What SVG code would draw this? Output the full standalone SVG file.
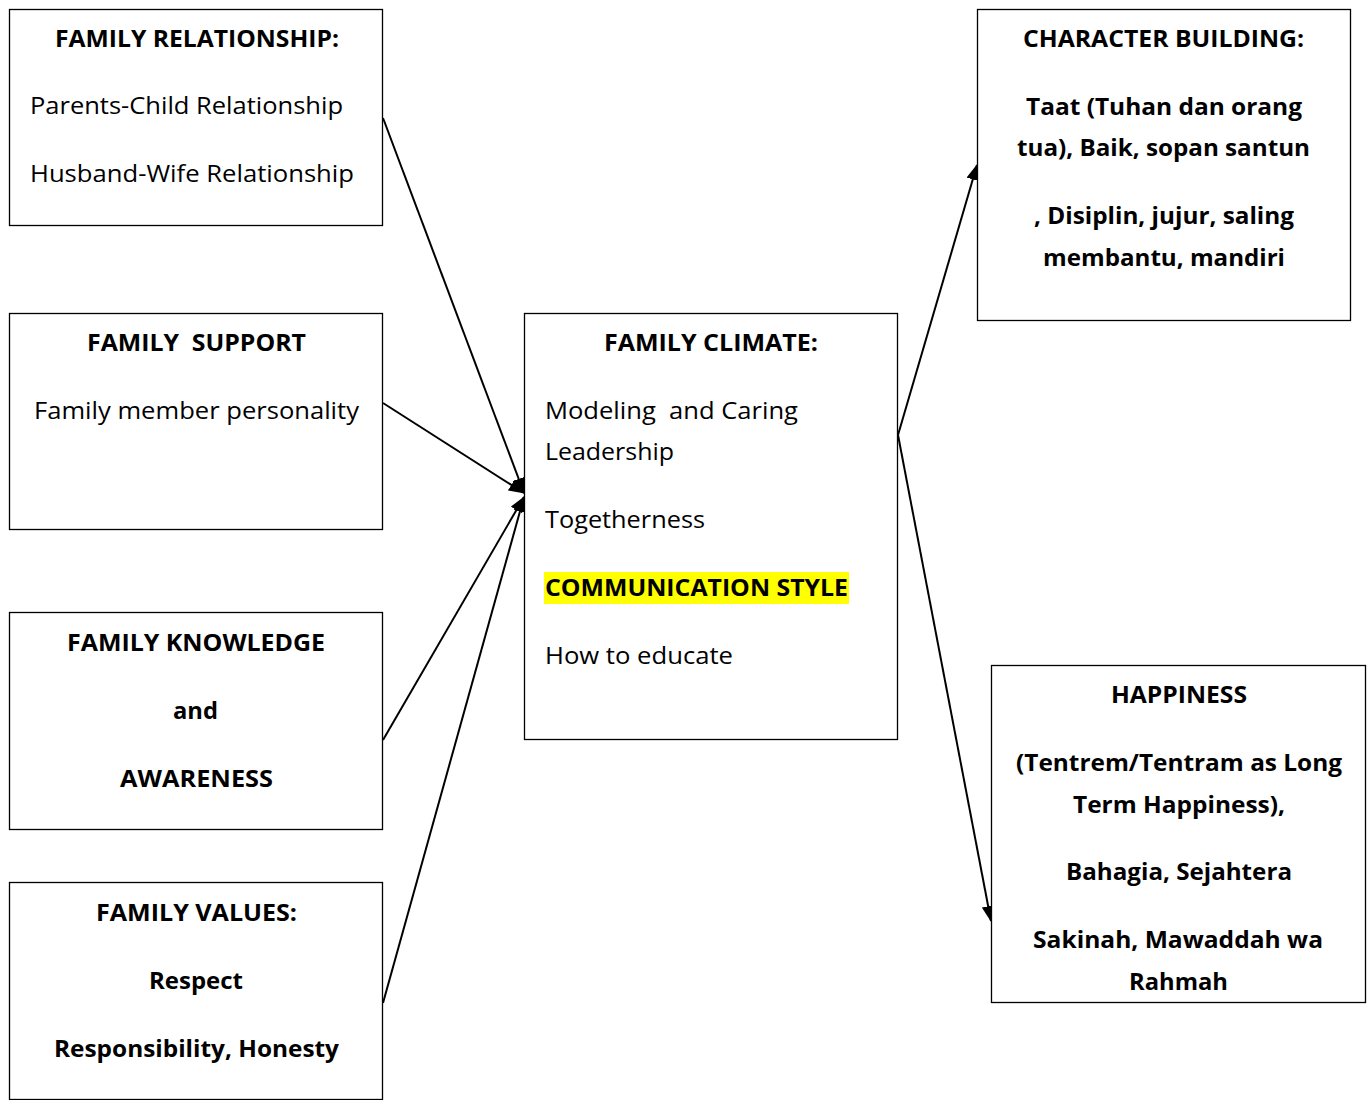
<svg xmlns="http://www.w3.org/2000/svg" width="1371" height="1100" viewBox="0 0 1371 1100">
<defs>
<style>
.box{fill:#fff;stroke:#000;stroke-width:1.3}
text{font-family:"Open Sans","Liberation Sans",sans-serif;font-size:23px;fill:#000}
.b{font-weight:bold}
.c{text-anchor:middle}
.edge{stroke:#000;stroke-width:2;fill:none;marker-end:url(#ah)}
</style>
<marker id="ah" markerWidth="16" markerHeight="13" refX="15" refY="6.5" orient="auto" markerUnits="userSpaceOnUse" viewBox="0 0 16 13">
<path d="M0,0 L16,6.5 L0,13 z" fill="#000"/>
</marker>
</defs>
<rect width="1371" height="1100" fill="#fff"/>
<g id="edges">
<line class="edge" x1="383" y1="118" x2="524" y2="493"/>
<line class="edge" x1="383" y1="403" x2="524" y2="493"/>
<line class="edge" x1="383" y1="740" x2="524" y2="497"/>
<line class="edge" x1="383" y1="1003" x2="524" y2="497"/>
<line class="edge" x1="898" y1="435" x2="977" y2="165"/>
<line class="edge" x1="898" y1="435" x2="991" y2="921"/>
</g>
<g id="family-relationship">
<rect class="box" x="9.5" y="9.5" width="373" height="216"/>
<text class="b c" x="197" y="47" textLength="284" lengthAdjust="spacingAndGlyphs">FAMILY RELATIONSHIP:</text>
<text x="30" y="114" textLength="313" lengthAdjust="spacingAndGlyphs">Parents-Child Relationship</text>
<text x="30" y="182" textLength="324" lengthAdjust="spacingAndGlyphs">Husband-Wife Relationship</text>
</g>
<g id="family-support">
<rect class="box" x="9.5" y="313.5" width="373" height="216"/>
<text class="b c" x="196.5" y="351" xml:space="preserve" textLength="219" lengthAdjust="spacingAndGlyphs">FAMILY  SUPPORT</text>
<text class="c" x="196.5" y="419" textLength="325" lengthAdjust="spacingAndGlyphs">Family member personality</text>
</g>
<g id="family-knowledge">
<rect class="box" x="9.5" y="612.5" width="373" height="217"/>
<text class="b c" x="196" y="651" textLength="258" lengthAdjust="spacingAndGlyphs">FAMILY KNOWLEDGE</text>
<text class="b c" x="195.5" y="719" textLength="45" lengthAdjust="spacingAndGlyphs">and</text>
<text class="b c" x="196.5" y="787" textLength="153" lengthAdjust="spacingAndGlyphs">AWARENESS</text>
</g>
<g id="family-values">
<rect class="box" x="9.5" y="882.5" width="373" height="217"/>
<text class="b c" x="196.5" y="921" textLength="201" lengthAdjust="spacingAndGlyphs">FAMILY VALUES:</text>
<text class="b c" x="196" y="989" textLength="94" lengthAdjust="spacingAndGlyphs">Respect</text>
<text class="b c" x="196.5" y="1057" textLength="285" lengthAdjust="spacingAndGlyphs">Responsibility, Honesty</text>
</g>
<g id="family-climate">
<rect class="box" x="524.5" y="313.5" width="373" height="426"/>
<text class="b c" x="711" y="351" textLength="214" lengthAdjust="spacingAndGlyphs">FAMILY CLIMATE:</text>
<text x="545" y="419" xml:space="preserve" textLength="253" lengthAdjust="spacingAndGlyphs">Modeling  and Caring</text>
<text x="545" y="460" textLength="129" lengthAdjust="spacingAndGlyphs">Leadership</text>
<text x="545" y="528" textLength="160" lengthAdjust="spacingAndGlyphs">Togetherness</text>
<rect x="544" y="572" width="305" height="32" fill="#ffff00"/>
<text class="b" x="545" y="596" textLength="303" lengthAdjust="spacingAndGlyphs">COMMUNICATION STYLE</text>
<text x="545" y="664" textLength="188" lengthAdjust="spacingAndGlyphs">How to educate</text>
</g>
<g id="character-building">
<rect class="box" x="977.5" y="9.5" width="373" height="311"/>
<text class="b c" x="1163.5" y="47" textLength="281" lengthAdjust="spacingAndGlyphs">CHARACTER BUILDING:</text>
<text class="b c" x="1164" y="115" textLength="276" lengthAdjust="spacingAndGlyphs">Taat (Tuhan dan orang</text>
<text class="b c" x="1163.5" y="156" textLength="293" lengthAdjust="spacingAndGlyphs">tua), Baik, sopan santun</text>
<text class="b c" x="1164" y="224" textLength="260" lengthAdjust="spacingAndGlyphs">, Disiplin, jujur, saling</text>
<text class="b c" x="1164" y="266" textLength="242" lengthAdjust="spacingAndGlyphs">membantu, mandiri</text>
</g>
<g id="happiness">
<rect class="box" x="991.5" y="665.5" width="374" height="337"/>
<text class="b c" x="1179" y="703" textLength="136" lengthAdjust="spacingAndGlyphs">HAPPINESS</text>
<text class="b c" x="1179" y="771" textLength="326" lengthAdjust="spacingAndGlyphs">(Tentrem/Tentram as Long</text>
<text class="b c" x="1179" y="813" textLength="212" lengthAdjust="spacingAndGlyphs">Term Happiness),</text>
<text class="b c" x="1179" y="880" textLength="226" lengthAdjust="spacingAndGlyphs">Bahagia, Sejahtera</text>
<text class="b c" x="1178" y="948" textLength="290" lengthAdjust="spacingAndGlyphs">Sakinah, Mawaddah wa</text>
<text class="b c" x="1178.5" y="990" textLength="99" lengthAdjust="spacingAndGlyphs">Rahmah</text>
</g>
</svg>
